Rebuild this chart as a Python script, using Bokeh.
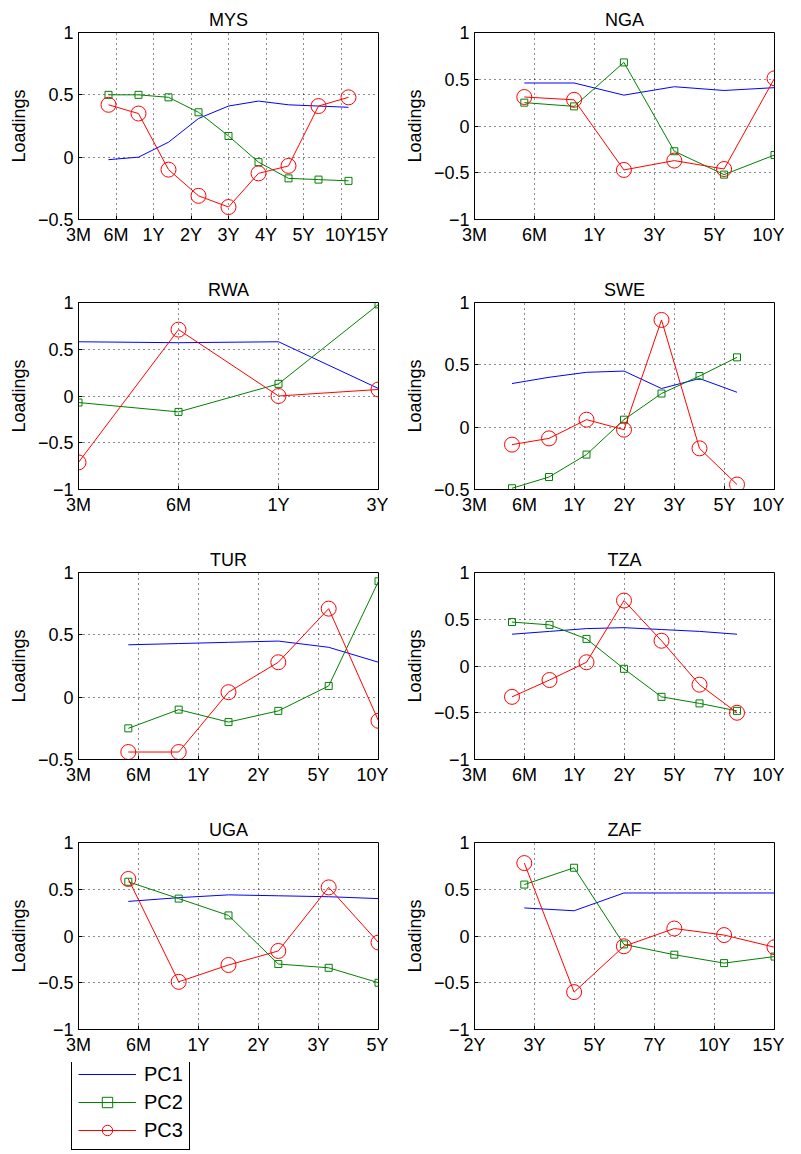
from bokeh.plotting import figure
from bokeh.layouts import gridplot
from bokeh.models import Range1d, FixedTicker, Legend, LegendItem
from bokeh.embed import file_html
from bokeh.resources import INLINE

# tick labels per country (x positions are in tick-index units)
mys_ticks = ["3M", "6M", "1Y", "2Y", "3Y", "4Y", "5Y", "10Y", "15Y"]
mys_x = [0.8, 1.6, 2.4, 3.2, 4.0, 4.8, 5.6, 6.4, 7.2]
mys_pc1 = [-0.02, 0.0, 0.12, 0.31, 0.41, 0.45, 0.42, 0.41, 0.40]
mys_pc2 = [0.50, 0.50, 0.48, 0.36, 0.17, -0.04, -0.17, -0.18, -0.19]
mys_pc3 = [0.42, 0.35, -0.10, -0.31, -0.40, -0.13, -0.07, 0.41, 0.48]

nga_ticks = ["3M", "6M", "1Y", "3Y", "5Y", "10Y"]
nga_x = [0.83, 1.66, 2.49, 3.33, 4.16, 5.0]
nga_pc1 = [0.46, 0.46, 0.33, 0.42, 0.38, 0.41]
nga_pc2 = [0.25, 0.21, 0.68, -0.27, -0.52, -0.31]
nga_pc3 = [0.31, 0.28, -0.47, -0.37, -0.46, 0.51]

rwa_ticks = ["3M", "6M", "1Y", "3Y"]
rwa_x = [0, 1, 2, 3]
rwa_pc1 = [0.58, 0.57, 0.58, 0.08]
rwa_pc2 = [-0.07, -0.17, 0.13, 0.98]
rwa_pc3 = [-0.71, 0.71, 0.0, 0.07]

swe_ticks = ["3M", "6M", "1Y", "2Y", "3Y", "5Y", "10Y"]
swe_x = [0.75, 1.49, 2.24, 2.99, 3.74, 4.5, 5.25]
swe_pc1 = [0.35, 0.40, 0.44, 0.45, 0.31, 0.39, 0.28]
swe_pc2 = [-0.49, -0.40, -0.22, 0.06, 0.27, 0.41, 0.56]
swe_pc3 = [-0.14, -0.09, 0.06, -0.02, 0.86, -0.17, -0.46]

tur_ticks = ["3M", "6M", "1Y", "2Y", "5Y", "10Y"]
tur_x = [0.83, 1.67, 2.5, 3.33, 4.17, 5.0]
tur_pc1 = [0.42, 0.43, 0.44, 0.45, 0.40, 0.28]
tur_pc2 = [-0.25, -0.10, -0.20, -0.11, 0.09, 0.93]
tur_pc3 = [-0.44, -0.44, 0.04, 0.28, 0.71, -0.19]

tza_ticks = ["3M", "6M", "1Y", "2Y", "5Y", "7Y", "10Y"]
tza_x = [0.75, 1.5, 2.24, 2.99, 3.74, 4.5, 5.25]
tza_pc1 = [0.34, 0.37, 0.40, 0.41, 0.39, 0.37, 0.34]
tza_pc2 = [0.47, 0.44, 0.29, -0.03, -0.33, -0.40, -0.48]
tza_pc3 = [-0.33, -0.15, 0.04, 0.70, 0.27, -0.20, -0.50]

uga_ticks = ["3M", "6M", "1Y", "2Y", "3Y", "5Y"]
uga_x = [0.83, 1.67, 2.5, 3.33, 4.17, 5.0]
uga_pc1 = [0.37, 0.41, 0.44, 0.43, 0.42, 0.40]
uga_pc2 = [0.58, 0.40, 0.22, -0.30, -0.34, -0.50]
uga_pc3 = [0.61, -0.49, -0.31, -0.16, 0.52, -0.07]

zaf_ticks = ["2Y", "3Y", "5Y", "7Y", "10Y", "15Y"]
zaf_x = [0.83, 1.66, 2.49, 3.33, 4.16, 5.0]
zaf_pc1 = [0.30, 0.27, 0.46, 0.46, 0.46, 0.46]
zaf_pc2 = [0.55, 0.73, -0.09, -0.20, -0.29, -0.22]
zaf_pc3 = [0.78, -0.60, -0.11, 0.08, 0.01, -0.12]

FONT = "Liberation Sans"


def panel(name, ticks, x, pc1, pc2, pc3, ymin, left, bottom=51):
    p = figure(frame_width=300, frame_height=187, output_backend="svg",
               toolbar_location=None, min_border_left=left, min_border_right=10,
               min_border_top=32, min_border_bottom=bottom,
               x_range=Range1d(0, len(ticks) - 1), y_range=Range1d(ymin, 1))
    p.title.text = name
    p.title.align = "center"
    p.title.text_font = FONT
    p.title.text_font_size = "18px"
    p.title.text_font_style = "normal"
    p.title.text_color = "black"
    p.title.standoff = 6
    p.outline_line_color = "black"
    p.outline_line_alpha = 1
    p.background_fill_color = "white"
    p.border_fill_color = "white"

    p.xaxis.ticker = FixedTicker(ticks=list(range(len(ticks))))
    p.xaxis.major_label_overrides = {i: t for i, t in enumerate(ticks)}
    yt = [v for v in [-1, -0.5, 0, 0.5, 1] if v >= ymin]
    p.yaxis.ticker = FixedTicker(ticks=yt)
    p.yaxis.major_label_overrides = {v: ("%g" % v).replace("-", "\u2212") for v in yt}
    p.yaxis.axis_label = "Loadings"
    for ax in (p.xaxis[0], p.yaxis[0]):
        ax.major_label_text_font = FONT
        ax.major_label_text_font_size = "18px"
        ax.major_label_text_color = "black"
        ax.axis_label_text_font = FONT
        ax.axis_label_text_font_size = "18px"
        ax.axis_label_text_font_style = "normal"
        ax.axis_label_text_color = "black"
        ax.major_tick_in = 4
        ax.major_tick_out = 0
        ax.minor_tick_line_color = None
        ax.axis_line_color = "black"
        ax.major_tick_line_color = "black"
    p.yaxis.axis_label_standoff = 6
    p.grid.grid_line_color = "black"
    p.grid.grid_line_dash = "1 4"
    p.grid.grid_line_alpha = 0.9

    p.line(x, pc1, color="blue", line_width=1)
    p.line(x, pc2, color="green", line_width=1)
    p.scatter(x, pc2, marker="square", size=7, fill_color=None, line_color="green")
    p.line(x, pc3, color="red", line_width=1)
    p.scatter(x, pc3, marker="circle", size=15, fill_color=None, line_color="red")
    return p


p1 = panel("MYS", mys_ticks, mys_x, mys_pc1, mys_pc2, mys_pc3, -0.5, 78)
p2 = panel("NGA", nga_ticks, nga_x, nga_pc1, nga_pc2, nga_pc3, -1, 83)
p3 = panel("RWA", rwa_ticks, rwa_x, rwa_pc1, rwa_pc2, rwa_pc3, -1, 78)
p4 = panel("SWE", swe_ticks, swe_x, swe_pc1, swe_pc2, swe_pc3, -0.5, 83)
p5 = panel("TUR", tur_ticks, tur_x, tur_pc1, tur_pc2, tur_pc3, -0.5, 78)
p6 = panel("TZA", tza_ticks, tza_x, tza_pc1, tza_pc2, tza_pc3, -1, 83)
p7 = panel("UGA", uga_ticks, uga_x, uga_pc1, uga_pc2, uga_pc3, -1, 78, bottom=33)
p8 = panel("ZAF", zaf_ticks, zaf_x, zaf_pc1, zaf_pc2, zaf_pc3, -1, 83, bottom=33)

# separate legend strip under the UGA panel
lf = figure(frame_width=391, frame_height=88, output_backend="svg", toolbar_location=None,
            x_range=Range1d(0, 1), y_range=Range1d(0, 1),
            min_border=0, outline_line_color=None)
lf.axis.visible = False
lf.grid.visible = False
off = [-10]
l1 = lf.line(off, off, color="blue")
l2 = lf.line(off, off, color="green")
l2m = lf.scatter(off, off, marker="square", size=7, fill_color=None, line_color="green")
l3 = lf.line(off, off, color="red")
l3m = lf.scatter(off, off, marker="circle", size=15, fill_color=None, line_color="red")
legend = Legend(items=[LegendItem(label="PC1", renderers=[l1]),
                       LegendItem(label="PC2", renderers=[l2, l2m]),
                       LegendItem(label="PC3", renderers=[l3, l3m])],
                location=(71, 0), orientation="vertical",
                label_text_font=FONT, label_text_font_size="20px",
                label_text_color="black",
                glyph_width=58, glyph_height=26, spacing=2, padding=6,
                border_line_color="black", border_line_alpha=1,
                margin=0, label_standoff=8)
lf.add_layout(legend, "center")

grid = gridplot([[p1, p2], [p3, p4], [p5, p6], [p7, p8], [lf, None]],
                toolbar_location=None)
open("out.html", "w").write(file_html(grid, INLINE))
